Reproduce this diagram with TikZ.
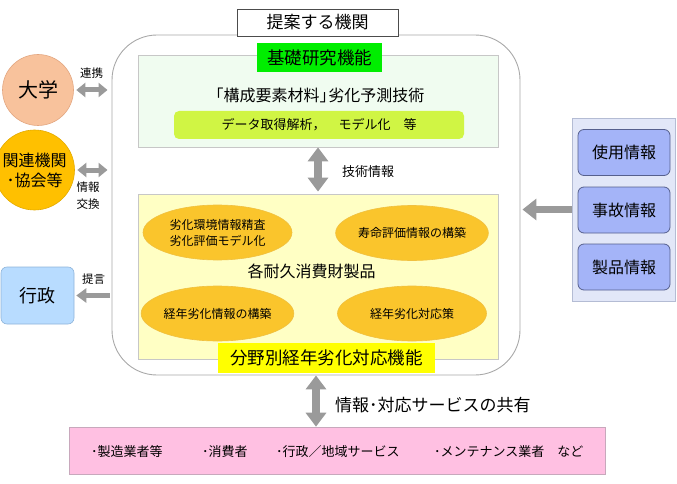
\documentclass[tikz,border=0pt]{standalone}
\usepackage{fontspec}
\setmainfont{Noto Sans CJK JP}
\usetikzlibrary{arrows.meta,shapes.geometric,calc}
\definecolor{agray}{HTML}{9A9A9A}
\definecolor{bline}{HTML}{A8A8A8}
\definecolor{peach}{HTML}{F8C29C}
\definecolor{peachb}{HTML}{E2A680}
\definecolor{orangey}{HTML}{FFC000}
\definecolor{orangeb}{HTML}{E3AA00}
\definecolor{lblue}{HTML}{B8DCFF}
\definecolor{lblueb}{HTML}{8EB4DA}
\definecolor{lav}{HTML}{E2E7F8}
\definecolor{lavb}{HTML}{B4BCD4}
\definecolor{peri}{HTML}{A4B4F8}
\definecolor{perib}{HTML}{56608E}
\definecolor{mint}{HTML}{F0FCF0}
\definecolor{lime}{HTML}{D0F544}
\definecolor{brgreen}{HTML}{00EE00}
\definecolor{lyel}{HTML}{FFFFC4}
\definecolor{ell}{HTML}{FAC52C}
\definecolor{ellb}{HTML}{F0C040}
\definecolor{yelb}{HTML}{FFFF00}
\definecolor{pink}{HTML}{FFC0E2}
\definecolor{pinkb}{HTML}{C8A8BC}
\tikzset{
  box/.style={draw=bline, line width=0.8pt, inner sep=0pt, minimum width=#1},
  elli/.style={ellipse, fill=ell, draw=ellb, line width=0.6pt, minimum width=149, minimum height=55, inner sep=0pt, align=center, font=\fontsize{12}{16}\selectfont},
  infobox/.style={draw=perib, fill=peri, line width=0.8pt, rounded corners=6, minimum width=92, minimum height=46, inner sep=0pt, font=\fontsize{16}{19}\selectfont},
  lbl/.style={inner sep=0pt, font=\fontsize{11.5}{17}\selectfont, align=center},
  ptext/.style={anchor=west, inner sep=0pt, font=\fontsize{13}{15}\selectfont},
  sarrowd/.style={draw=agray, line width=5pt, {Triangle[length=9pt,width=14pt]}-{Triangle[length=9pt,width=14pt]}},
  sarrow/.style={draw=agray, line width=5pt, -{Triangle[length=10pt,width=14pt]}},
  marrow/.style={draw=agray, line width=7pt, -{Triangle[length=14pt,width=21pt]}},
  marrowd/.style={draw=agray, line width=8pt, {Triangle[length=14pt,width=20pt]}-{Triangle[length=14pt,width=20pt]}}
}
\begin{document}
\begin{tikzpicture}[x=1pt,y=-1pt]
\useasboundingbox (0,0) rectangle (677,484);
% big rounded frame
\node[draw=bline, line width=0.9pt, rounded corners=45, minimum width=408, minimum height=340, inner sep=0pt] (big) at (316,205) {};
% title
\node[draw=black!70, line width=0.8pt, fill=white, minimum width=161, minimum height=27, inner sep=0pt, font=\fontsize{17}{20}\selectfont] (title) at (317.5,22.5) {提案する機関};
% research panel
\node[box=360, fill=mint, draw=black!22, minimum height=92] (mintp) at (318,101) {};
\node[fill=brgreen, minimum width=125, minimum height=29, inner sep=0pt, font=\fontsize{17.5}{20}\selectfont] (green) at (319.5,57.5) {基礎研究機能};
\node[inner sep=0pt, font=\fontsize{16}{19}\selectfont] (tech) at (316,95) {「構成要素材料」\hspace{-0.45em}劣化予測技術};
\node[fill=lime, rounded corners=5, minimum width=290, minimum height=28, inner sep=0pt, font=\fontsize{13}{16}\selectfont] (lime) at (319,125) {データ取得解析，　モデル化　等};
% product panel
\node[box=360, fill=lyel, draw=black!22, minimum height=165] (yel) at (318,276.5) {};
\node[elli] (e1) at (217.5,232.5) {劣化環境情報精査\\劣化評価モデル化};
\node[elli] (e2) at (412,233) {寿命評価情報の構築};
\node[elli] (e3) at (217.5,313.5) {経年劣化情報の構築};
\node[elli] (e4) at (412,313.5) {経年劣化対応策};
\node[inner sep=0pt, font=\fontsize{16}{19}\selectfont] (prod) at (311.5,271) {各耐久消費財製品};
\node[fill=yelb, minimum width=217, minimum height=30, inner sep=0pt, font=\fontsize{17.5}{20}\selectfont] (ylab) at (326.5,358) {分野別経年劣化対応機能};
% left side
\node[circle, fill=peach, draw=peachb, line width=0.6pt, minimum size=71, inner sep=0pt, font=\fontsize{20}{22}\selectfont] (daigaku) at (38,90) {大学};
\node[circle, fill=orangey, draw=orangeb, line width=0.6pt, minimum size=80, inner sep=0pt, align=center, font=\fontsize{16}{20}\selectfont] (kanren) at (34.5,170) {関連機関\\･協会等};
\node[fill=lblue, draw=lblueb, line width=0.6pt, rounded corners=6, minimum width=73, minimum height=57, inner sep=0pt, font=\fontsize{18}{20}\selectfont] (gyosei) at (37.5,295.5) {行政};
\node[lbl] (l1) at (91.5,73) {連携};
\node[lbl] (l2) at (88,195.5) {情報\\交換};
\node[lbl] (l3) at (93.5,279) {提言};
% right side
\node[fill=lav, draw=lavb, line width=0.7pt, minimum width=103, minimum height=183, inner sep=0pt] (rpanel) at (623.5,209.5) {};
\node[infobox] (b1) at (624,152.5) {使用情報};
\node[infobox] (b2) at (624,210) {事故情報};
\node[infobox] (b3) at (624,267) {製品情報};
% bottom
\node[fill=pink, draw=pinkb, line width=0.6pt, minimum width=536, minimum height=47, inner sep=0pt] (pinkb) at (337,450.5) {};
\node[ptext] (p1) at (91,452) {･製造業者等};
\node[ptext] (p2) at (202,452) {･消費者};
\node[ptext] (p3) at (276,452) {･行政／地域サービス};
\node[ptext] (p4) at (434,452) {･メンテナンス業者　など};
% labels for arrows
\node[anchor=west, inner sep=0pt, font=\fontsize{13}{16}\selectfont] (tlab) at (342,172) {技術情報};
\node[anchor=west, inner sep=0pt, font=\fontsize{17}{20}\selectfont] (slab) at (335,405) {情報･対応サービスの共有};
% arrows
\draw[sarrowd, shorten <=2.5pt, shorten >=4pt] (daigaku.east) -- (big.west |- daigaku.east);
\draw[sarrowd, shorten <=2.5pt, shorten >=4pt] (kanren.east) -- (big.west |- kanren.east);
\draw[sarrow, shorten <=2pt, shorten >=2pt] (big.west |- gyosei.east) -- (gyosei.east);
\draw[marrow, shorten >=2pt] (rpanel.west) -- (big.east |- rpanel.west);
\draw[marrowd, shorten >=2pt] (mintp.south) -- (yel.north);
\draw[marrowd] (big.south) -- (big.south |- pinkb.north);
\end{tikzpicture}
\end{document}
